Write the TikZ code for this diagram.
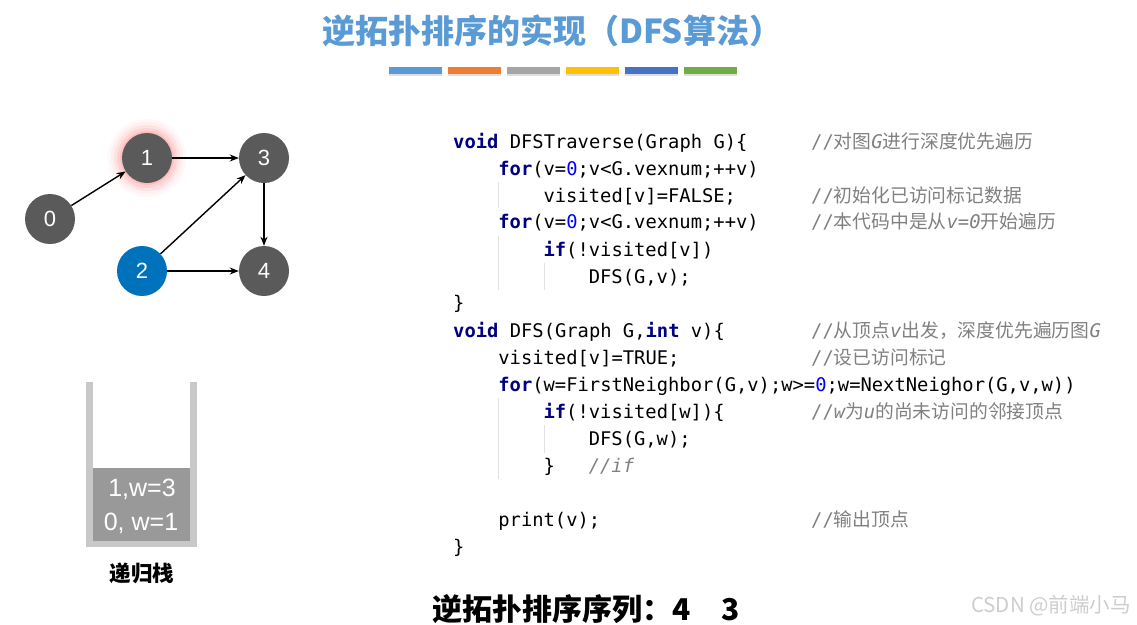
\documentclass[tikz,border=0pt]{standalone}
\usepackage{fontspec}
\setmainfont{Liberation Sans}
\newfontfamily\cjk{Noto Sans CJK SC}
\newfontfamily\codefont{DejaVu Sans Mono}
\usetikzlibrary{positioning,arrows.meta,shadows}
\definecolor{TitleBlue}{RGB}{91,155,213}
\definecolor{BarOrange}{RGB}{237,125,49}
\definecolor{BarGray}{RGB}{165,165,165}
\definecolor{BarYellow}{RGB}{255,192,0}
\definecolor{BarBlue}{RGB}{68,114,196}
\definecolor{BarGreen}{RGB}{112,173,71}
\definecolor{NodeGray}{RGB}{90,90,90}
\definecolor{NodeBlue}{RGB}{0,114,188}
\definecolor{GlowRed}{RGB}{255,70,70}
\definecolor{KeyNavy}{RGB}{0,0,128}
\definecolor{NumBlue}{RGB}{0,0,255}
\definecolor{CmtGray}{RGB}{128,128,128}
\definecolor{WallGray}{RGB}{200,200,200}
\definecolor{StackGray}{RGB}{153,153,153}
\definecolor{GuideGray}{RGB}{225,225,225}
\definecolor{MarkGray}{RGB}{205,205,205}
\newcommand{\kw}[1]{{\bfseries\color{KeyNavy}#1}}
\newcommand{\nm}[1]{{\color{NumBlue}#1}}
\newcommand{\iv}[1]{{\itshape #1}}
\newcommand{\zh}[1]{{\cjk #1}}

\begin{document}
\begin{tikzpicture}[x=1pt, y=-1pt,
  vertex/.style={circle, fill=NodeGray, text=white, minimum size=50pt, inner sep=0pt, font=\fontsize{22}{24}\selectfont},
  edge/.style={-{Stealth[length=9pt,width=7pt]}, line width=1.4pt},
  code/.style={anchor=base west, inner sep=0pt, font=\codefont\fontsize{18.8}{20}\selectfont},
  cmt/.style={code, text=CmtGray},
  wall/.style={WallGray, line width=6.5pt},
  guide/.style={GuideGray, line width=0.8pt}]
  \useasboundingbox (0,0) rectangle (1137,624);
  % title and colour bars
  \node[font=\cjk\bfseries\fontsize{33}{36}\selectfont, text=TitleBlue] (title) at (552,31) {逆拓扑排序的实现（DFS算法）};
  \foreach \c [count=\i from 0] in {TitleBlue,BarOrange,BarGray,BarYellow,BarBlue,BarGreen}
    \fill[\c, drop shadow={opacity=0.25, shadow xshift=0pt, shadow yshift=-2pt}] (389+\i*59,67) rectangle +(53,7);

  % graph
  \coordinate (c1) at (147,158);
  \foreach \r/\o in {39/0.04, 36/0.05, 33/0.07, 30/0.1, 27/0.15}
    \fill[GlowRed, opacity=\o] (c1) circle (\r pt);
  \node[vertex] (n0) at (50,219) {0};
  \node[vertex] (n1) at (c1) {1};
  \node[vertex, fill=NodeBlue] (n2) at (142,271) {2};
  \node[vertex] (n3) at (264,158) {3};
  \node[vertex] (n4) at (264,271) {4};
  \draw[edge] (n0) -- (n1);
  \draw[edge] (n1) -- (n3);
  \draw[edge] (n2) -- (n3);
  \draw[edge] (n2) -- (n4);
  \draw[edge] (n3) -- (n4);

  % recursion stack
  \fill[StackGray] (93,468) rectangle (190,541);
  \draw[wall] (89.5,382) -- (89.5,547);
  \draw[wall] (193.5,382) -- (193.5,547);
  \fill[WallGray] (93,541) rectangle (190,547);
  \node[text=white, font=\fontsize{25}{26}\selectfont] (s1) at (142,489) {1,w=3};
  \node[text=white, font=\fontsize{25}{26}\selectfont] (s0) at (141,523) {0, w=1};
  \node[font=\cjk\bfseries\fontsize{21.5}{22}\selectfont] (stk) at (142,573) {递归栈};

  % code
  \draw[guide] (498.5,182) -- (498.5,208);
  \draw[guide] (498.5,236) -- (498.5,290);
  \draw[guide] (544.5,263) -- (544.5,290);
  \draw[guide] (498.5,398) -- (498.5,479);
  \draw[guide] (544.5,425) -- (544.5,453);
  \node[code] (l1) at (453,148) {\kw{void} DFSTraverse(Graph G)\{};
  \node[code] (l2) at (498.2,175) {\kw{for}(v=\nm{0};v<G.vexnum;++v)};
  \node[code] (l3) at (543.4,202) {visited[v]=FALSE;};
  \node[code] (l4) at (498.2,228) {\kw{for}(v=\nm{0};v<G.vexnum;++v)};
  \node[code] (l5) at (543.4,256) {\kw{if}(!visited[v])};
  \node[code] (l6) at (588.6,283) {DFS(G,v);};
  \node[code] (l7) at (453,309) {\}};
  \node[code] (l8) at (453,337) {\kw{void} DFS(Graph G,\kw{int} v)\{};
  \node[code] (l9) at (498.2,364) {visited[v]=TRUE;};
  \node[code] (l10) at (498.2,391) {\kw{for}(w=FirstNeighbor(G,v);w>=\nm{0};w=NextNeighor(G,v,w))};
  \node[code] (l11) at (543.4,418) {\kw{if}(!visited[w])\{};
  \node[code] (l12) at (588.6,445) {DFS(G,w);};
  \node[code] (l13) at (543.4,472) {\}};
  \node[cmt] (c13) at (588.6,472) {\iv{//if}};
  \node[code] (l14) at (498.2,526) {print(v);};
  \node[code] (l15) at (453,553) {\}};
  % comments
  \node[cmt] (c1t) at (811,148) {//\zh{对图}\iv{G}\zh{进行深度优先遍历}};
  \node[cmt] (c3) at (811,202) {//\zh{初始化已访问标记数据}};
  \node[cmt] (c4) at (811,228) {//\zh{本代码中是从}\iv{v=0}\zh{开始遍历}};
  \node[cmt] (c8) at (811,337) {//\zh{从顶点}\iv{v}\zh{出发，深度优先遍历图}\iv{G}};
  \node[cmt] (c9) at (811,364) {//\zh{设已访问标记}};
  \node[cmt] (c11) at (811,418) {//\iv{w}\zh{为}\iv{u}\zh{的尚未访问的邻接顶点}};
  \node[cmt] (c14) at (811,526) {//\zh{输出顶点}};

  % result
  \node[anchor=base west, inner sep=0pt, font=\cjk\bfseries\fontsize{30}{32}\selectfont] (seq) at (432,620) {逆拓扑排序序列：4\hspace{31pt}3};
  \node[anchor=base east, inner sep=0pt, text=MarkGray, font=\cjk\fontsize{20.5}{22}\selectfont] (mark) at (1131,612) {CSDN @前端小马};
\end{tikzpicture}
\end{document}
